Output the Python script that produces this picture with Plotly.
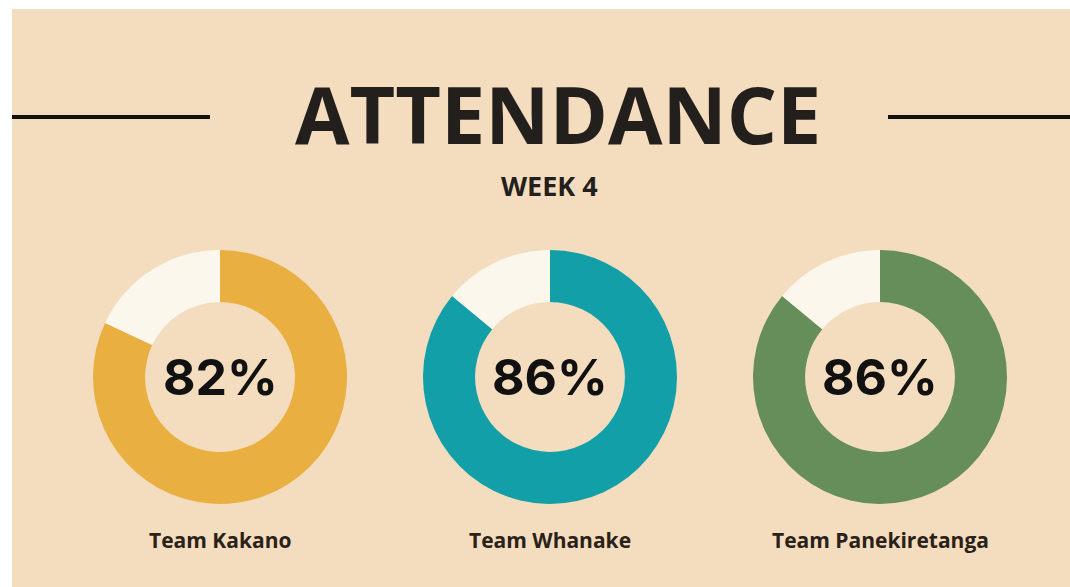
import plotly.graph_objects as go

teams = ["Team Kakano", "Team Whanake", "Team Panekiretanga"]
attendance = [82, 86, 86]
colors = ["#EAAF41", "#129FA8", "#668E5B"]
title = "ATTENDANCE"
subtitle = "WEEK 4"

W, H = 1070, 587
BG = "#F4DCBF"
REST = "#FCF7EC"

centers_x = [220, 550, 880]
cy = 377
R = 127

fig = go.Figure()
for i, (t, v, c) in enumerate(zip(teams, attendance, colors)):
    cx = centers_x[i]
    fig.add_trace(go.Pie(
        values=[v, 100 - v],
        labels=["Attended", "Absent"],
        marker=dict(colors=[c, REST], line=dict(width=0)),
        hole=0.59,
        sort=False,
        direction="clockwise",
        rotation=0,
        textinfo="none",
        hoverinfo="skip",
        showlegend=False,
        domain=dict(x=[(cx - R) / W, (cx + R) / W], y=[1 - (cy + R) / H, 1 - (cy - R) / H]),
    ))
    fig.add_annotation(x=cx / W, y=1 - cy / H, xref="paper", yref="paper",
                       text=f"{v}%", showarrow=False, xanchor="center", yanchor="middle",
                       font=dict(family="Inter", size=50, color="#111111", weight=700))
    fig.add_annotation(x=cx / W, y=1 - 540 / H, xref="paper", yref="paper",
                       text=t, showarrow=False, xanchor="center", yanchor="middle",
                       font=dict(family="Open Sans", size=21, color="#2A2118", weight=700))

fig.add_annotation(x=558 / W, y=1 - 113 / H, xref="paper", yref="paper", text=title,
                   showarrow=False, xanchor="center", yanchor="middle",
                   font=dict(family="Open Sans", size=79, color="#231F1C", weight=700))
fig.add_annotation(x=550 / W, y=1 - 185 / H, xref="paper", yref="paper", text=subtitle,
                   showarrow=False, xanchor="center", yanchor="middle",
                   font=dict(family="Open Sans", size=27, color="#231F1C", weight=700))

shapes = [
    dict(type="rect", xref="paper", yref="paper", x0=12 / W, x1=1, y0=0, y1=1 - 9 / H,
         fillcolor=BG, line=dict(width=0), layer="below"),
    dict(type="line", xref="paper", yref="paper", x0=12 / W, x1=210 / W, y0=1 - 117 / H, y1=1 - 117 / H,
         line=dict(color="#111111", width=4)),
    dict(type="line", xref="paper", yref="paper", x0=888 / W, x1=1, y0=1 - 117 / H, y1=1 - 117 / H,
         line=dict(color="#111111", width=4)),
]

fig.update_layout(width=W, height=H, margin=dict(l=0, r=0, t=0, b=0),
                  paper_bgcolor="#FFFFFF", plot_bgcolor="#FFFFFF", shapes=shapes)
fig.write_html("out.html")
